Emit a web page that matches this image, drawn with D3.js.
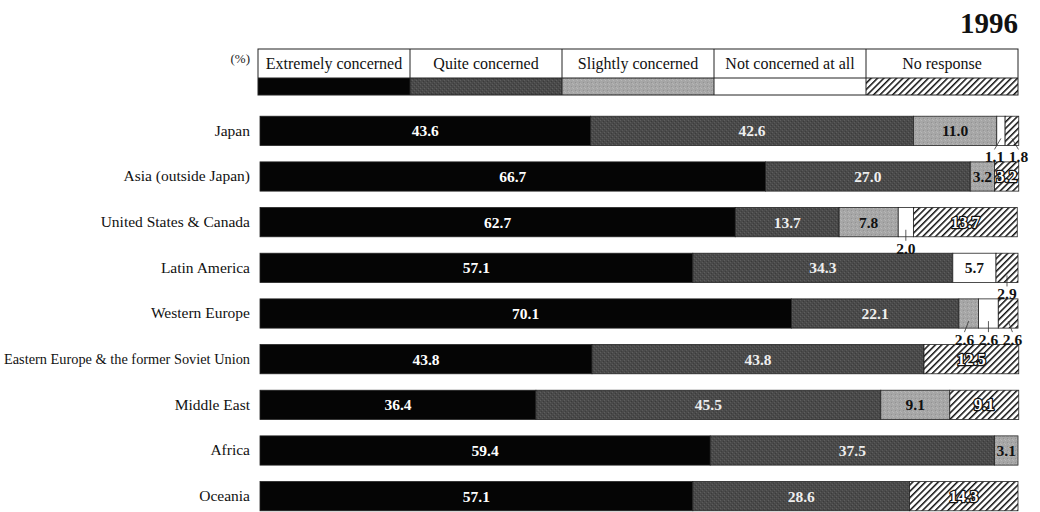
<!DOCTYPE html>
<html>
<head>
<meta charset="utf-8">
<script src="https://cdn.jsdelivr.net/npm/d3@7"></script>
<style>
  html, body { margin: 0; padding: 0; background: #fff; }
  svg { display: block; font-family: "Liberation Serif", "Times New Roman", serif; }
</style>
</head>
<body>
<svg id="chart" width="1040" height="512"></svg>
<script>
// Level of concern by region, 1996 (%)
const regions = [
  "Japan",
  "Asia (outside Japan)",
  "United States & Canada",
  "Latin America",
  "Western Europe",
  "Eastern Europe & the former Soviet Union",
  "Middle East",
  "Africa",
  "Oceania"
];
const extremely  = [43.6, 66.7, 62.7, 57.1, 70.1, 43.8, 36.4, 59.4, 57.1];
const quite      = [42.6, 27.0, 13.7, 34.3, 22.1, 43.8, 45.5, 37.5, 28.6];
const slightly   = [11.0,  3.2,  7.8,  0.0,  2.6,  0.0,  9.1,  3.1,  0.0];
const notAtAll   = [ 1.1,  0.0,  2.0,  5.7,  2.6,  0.0,  0.0,  0.0,  0.0];
const noResponse = [ 1.8,  3.2, 13.7,  2.9,  2.6, 12.5,  9.1,  0.0, 14.3];

const keys = ["extremely", "quite", "slightly", "notAtAll", "noResponse"];
const legendLabels = ["Extremely concerned", "Quite concerned", "Slightly concerned", "Not concerned at all", "No response"];
const yearLabel = "1996";
const unitLabel = "(%)";

const series = { extremely, quite, slightly, notAtAll, noResponse };
const table = regions.map((r, i) => {
  const row = { region: r };
  keys.forEach(k => row[k] = series[k][i]);
  return row;
});

const svg = d3.select("#chart");
const defs = svg.append("defs");

// grainy dark grey
const pq = defs.append("pattern").attr("id", "pat-quite")
  .attr("patternUnits", "userSpaceOnUse").attr("width", 4).attr("height", 4);
pq.append("rect").attr("width", 4).attr("height", 4).attr("fill", "#4a4a4a");
pq.append("rect").attr("x", 0).attr("y", 0).attr("width", 1).attr("height", 1).attr("fill", "#5e5e5e");
pq.append("rect").attr("x", 2).attr("y", 2).attr("width", 1).attr("height", 1).attr("fill", "#5a5a5a");
pq.append("rect").attr("x", 3).attr("y", 1).attr("width", 1).attr("height", 1).attr("fill", "#3a3a3a");
pq.append("rect").attr("x", 1).attr("y", 3).attr("width", 1).attr("height", 1).attr("fill", "#3e3e3e");

// grainy light grey
const ps = defs.append("pattern").attr("id", "pat-slightly")
  .attr("patternUnits", "userSpaceOnUse").attr("width", 4).attr("height", 4);
ps.append("rect").attr("width", 4).attr("height", 4).attr("fill", "#a6a6a6");
ps.append("rect").attr("x", 1).attr("y", 0).attr("width", 1).attr("height", 1).attr("fill", "#b8b8b8");
ps.append("rect").attr("x", 3).attr("y", 2).attr("width", 1).attr("height", 1).attr("fill", "#939393");
ps.append("rect").attr("x", 0).attr("y", 3).attr("width", 1).attr("height", 1).attr("fill", "#b4b4b4");

// diagonal hatching
const ph = defs.append("pattern").attr("id", "pat-hatch")
  .attr("patternUnits", "userSpaceOnUse").attr("width", 4.5).attr("height", 4.5)
  .attr("patternTransform", "rotate(45)");
ph.append("rect").attr("width", 4.5).attr("height", 4.5).attr("fill", "#fff");
ph.append("rect").attr("width", 1.5).attr("height", 4.5).attr("fill", "#111");

const fills = {
  extremely: "#050505",
  quite: "url(#pat-quite)",
  slightly: "url(#pat-slightly)",
  notAtAll: "#ffffff",
  noResponse: "url(#pat-hatch)"
};
const labelFill = {
  extremely: "#ffffff", quite: "#eeeeee", slightly: "#111", notAtAll: "#111", noResponse: "#ffffff"
};

const x = d3.scaleLinear().domain([0, 100]).range([260, 1018]);
const y = d3.scaleBand().domain(regions).range([108, 519]).paddingInner(0.36).paddingOuter(0.18);

const stack = d3.stack().keys(keys);
const stacked = stack(table);

// year title
svg.append("text")
  .attr("x", 1018).attr("y", 33)
  .attr("text-anchor", "end")
  .attr("font-weight", "bold").attr("font-size", 29)
  .attr("fill", "#111")
  .text(yearLabel);

// legend
const lx = d3.scaleBand().domain(keys).range([258, 1018]);
const legTop = 49, legMid = 78, legBot = 95;
const leg = svg.append("g");
leg.selectAll("rect.sw").data(keys).join("rect")
  .attr("class", "sw")
  .attr("x", d => lx(d)).attr("y", legMid)
  .attr("width", lx.bandwidth()).attr("height", legBot - legMid)
  .attr("fill", d => fills[d]);
leg.append("rect")
  .attr("x", 258).attr("y", legTop).attr("width", 760).attr("height", legBot - legTop)
  .attr("fill", "none").attr("stroke", "#222").attr("stroke-width", 1);
leg.append("line").attr("x1", 258).attr("x2", 1018).attr("y1", legMid).attr("y2", legMid)
  .attr("stroke", "#222").attr("stroke-width", 1);
leg.selectAll("line.div").data(keys.slice(1)).join("line")
  .attr("class", "div")
  .attr("x1", d => lx(d)).attr("x2", d => lx(d))
  .attr("y1", legTop).attr("y2", legBot)
  .attr("stroke", "#222").attr("stroke-width", 1);
leg.selectAll("text").data(keys).join("text")
  .attr("x", d => lx(d) + lx.bandwidth() / 2)
  .attr("y", 69)
  .attr("text-anchor", "middle")
  .attr("font-size", 16).attr("fill", "#111")
  .text((d, i) => legendLabels[i]);

svg.append("text")
  .attr("x", 250).attr("y", 63)
  .attr("text-anchor", "end")
  .attr("font-size", 13).attr("fill", "#222")
  .text(unitLabel);

// category axis
const yAxis = d3.axisLeft(y).tickSize(0).tickPadding(10);
const ag = svg.append("g").attr("transform", "translate(260,0)").call(yAxis);
ag.select(".domain").remove();
ag.selectAll("text")
  .attr("font-family", "Liberation Serif, Times New Roman, serif")
  .attr("font-size", 15.5).attr("fill", "#111")
  .each(function () {
    // squeeze labels that would run past the left edge
    const w = this.getComputedTextLength();
    if (w > 246) this.setAttribute("textLength", 246), this.setAttribute("lengthAdjust", "spacingAndGlyphs");
  });

// bars
const layers = svg.append("g").selectAll("g").data(stacked).join("g");
layers.selectAll("rect")
  .data(s => s.map(d => ({ key: s.key, d })))
  .join("rect")
  .filter(o => o.d[1] - o.d[0] > 0)
  .attr("x", o => x(o.d[0]))
  .attr("y", o => y(o.d.data.region))
  .attr("width", o => x(o.d[1]) - x(o.d[0]))
  .attr("height", y.bandwidth())
  .attr("fill", o => fills[o.key])
  .attr("stroke", "#222").attr("stroke-width", 0.8);

// value labels
const labelG = svg.append("g")
  .attr("font-weight", "bold").attr("font-size", 15.5);

const outside = [];
stacked.forEach(s => {
  s.forEach(d => {
    const v = d[1] - d[0];
    if (v <= 0) return;
    const cx = (x(d[0]) + x(d[1])) / 2;
    const yTop = y(d.data.region);
    const txt = v.toFixed(1);
    if (v >= 3.0) {
      const t = labelG.append("text")
        .attr("x", cx).attr("y", yTop + y.bandwidth() / 2 + 5.5)
        .attr("text-anchor", "middle")
        .attr("fill", labelFill[s.key])
        .text(txt);
      if (s.key === "noResponse") {
        t.attr("font-size", 16.5)
          .attr("stroke", "#111").attr("stroke-width", 2.6)
          .attr("paint-order", "stroke").attr("stroke-linejoin", "round");
      }
    } else {
      outside.push({ region: d.data.region, cx, txt });
    }
  });
});

// small segments: labels below the bar, spread apart and linked by a leader
const gap = 24;
d3.groups(outside, o => o.region).forEach(([region, items]) => {
  items.sort((a, b) => a.cx - b.cx);
  const mean = d3.mean(items, o => o.cx);
  const start = mean - gap * (items.length - 1) / 2;
  const bottom = y(region) + y.bandwidth();
  items.forEach((o, i) => {
    const lxp = items.length > 1 ? start + i * gap : o.cx;
    svg.append("line")
      .attr("x1", o.cx).attr("y1", bottom - 7)
      .attr("x2", lxp).attr("y2", bottom + 4)
      .attr("stroke", "#333").attr("stroke-width", 0.8);
    labelG.append("text")
      .attr("x", lxp).attr("y", bottom + 17)
      .attr("text-anchor", "middle")
      .attr("fill", "#111")
      .text(o.txt);
  });
});
</script>
</body>
</html>
